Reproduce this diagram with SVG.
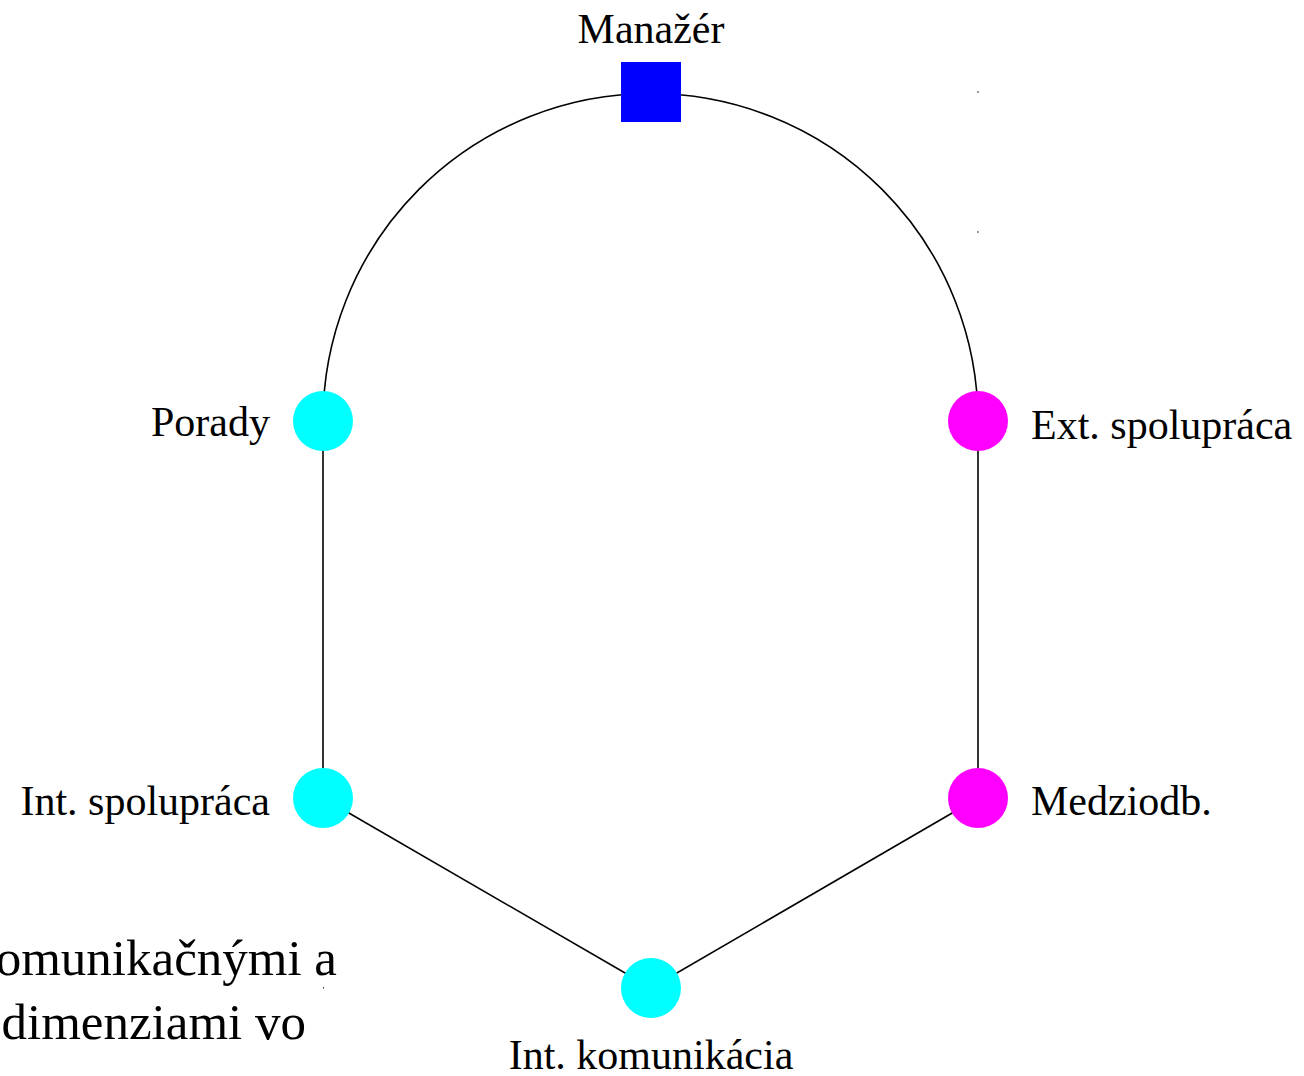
<svg xmlns="http://www.w3.org/2000/svg" width="1304" height="1076" viewBox="0 0 1304 1076">
<style>
.lbl{font-family:"Liberation Serif","Times New Roman",serif;font-size:42px;fill:#000}
.body{font-family:"Liberation Serif","Times New Roman",serif;font-size:51px;fill:#000}
.edge{fill:none;stroke:#000;stroke-width:1.6}
.cyan{fill:#00FFFF}
.mag{fill:#FF00FF}
</style>
<rect width="1304" height="1076" fill="#fff"/>
<g id="background-text">
<text class="body" x="337" y="975" text-anchor="end">komunikačnými a</text>
<text class="body" x="306" y="1039" text-anchor="end">dimenziami vo</text>
</g>
<g id="connectors">
<path class="edge" d="M323 421 A327.5 327.5 0 0 1 978 421"/>
<line class="edge" x1="323" y1="421" x2="323" y2="798"/>
<line class="edge" x1="978" y1="421" x2="978" y2="798"/>
<line class="edge" x1="323" y1="798" x2="651" y2="988"/>
<line class="edge" x1="978" y1="798" x2="651" y2="988"/>
</g>
<g id="marks" fill="#333">
<rect x="977.5" y="91" width="1" height="2"/>
<rect x="977.5" y="231" width="1" height="2"/>
<rect x="323" y="987" width="1" height="1.5"/>
</g>
<g id="node-manazer">
<rect x="621" y="62" width="60" height="60" fill="#0000FF"/>
<text class="lbl" x="651" y="43" text-anchor="middle">Manažér</text>
</g>
<g id="node-porady">
<circle class="cyan" cx="323" cy="421" r="30"/>
<text class="lbl" x="270" y="436" text-anchor="end">Porady</text>
</g>
<g id="node-ext">
<circle class="mag" cx="978" cy="421" r="30"/>
<text class="lbl" x="1031" y="439">Ext. spolupráca</text>
</g>
<g id="node-int-spol">
<circle class="cyan" cx="323" cy="798" r="30"/>
<text class="lbl" x="270" y="815" text-anchor="end">Int. spolupráca</text>
</g>
<g id="node-medziodb">
<circle class="mag" cx="978" cy="798" r="30"/>
<text class="lbl" x="1031" y="815">Medziodb.</text>
</g>
<g id="node-int-kom">
<circle class="cyan" cx="651" cy="988" r="30"/>
<text class="lbl" x="651" y="1069" text-anchor="middle">Int. komunikácia</text>
</g>
</svg>
